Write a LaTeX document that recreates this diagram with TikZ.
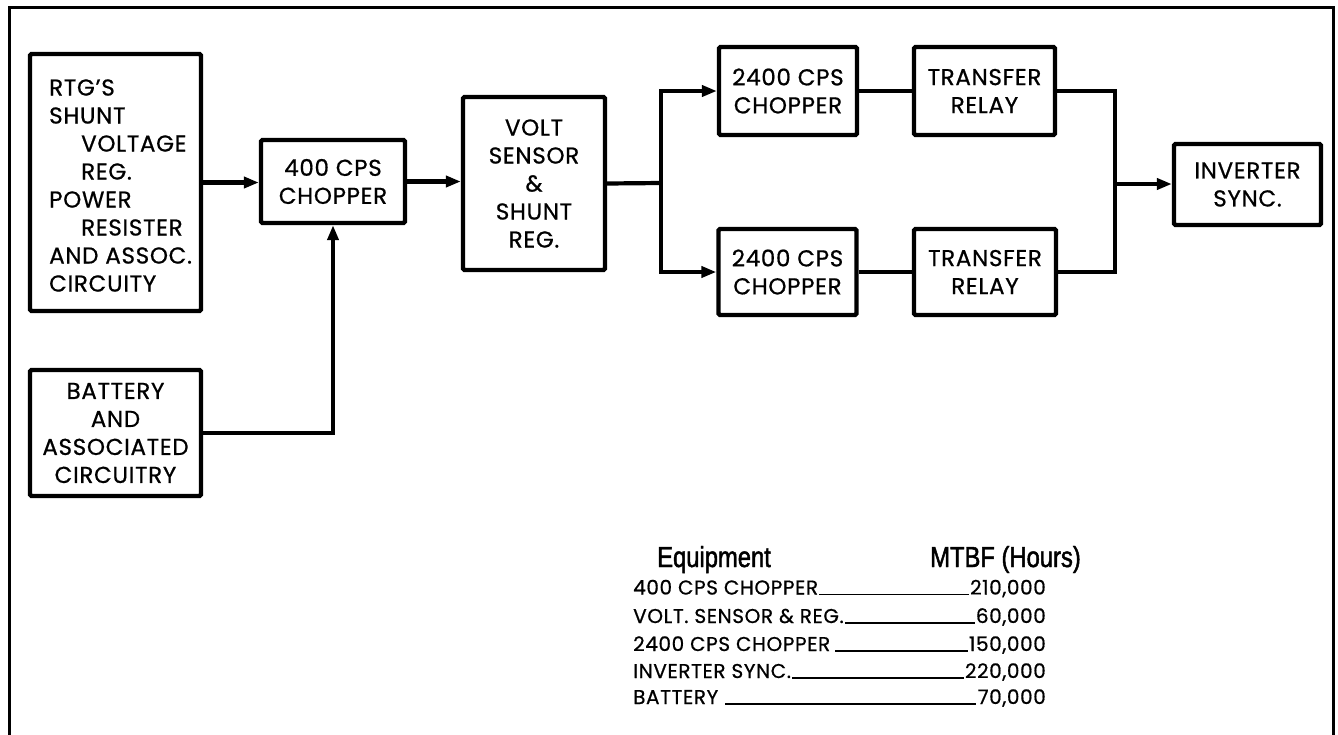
\documentclass[tikz,border=0pt]{standalone}
\usepackage{fontspec}
\setmainfont{Poppins}[FakeBold=0.7, LetterSpace=3]
\newfontfamily\hdrfont{Liberation Sans}[FakeStretch=0.82, FakeBold=1.6]
\usetikzlibrary{arrows.meta}
\tikzset{
  blk/.style={draw, line width=4.3pt, rounded corners=1.5pt, inner sep=0pt,
              font=\fontsize{23}{28}\selectfont, align=center},
  blktxt/.style={inner sep=0pt, font=\fontsize{23}{28}\selectfont, align=left},
  wire/.style={line width=4.2pt},
  arr/.style={wire, -{Triangle[length=15pt,width=11pt]}},
  row/.style={inner sep=1pt, font=\fontsize{20}{22}\selectfont},
  hdr/.style={inner sep=0pt, font=\hdrfont\fontsize{29}{30}\selectfont},
  lead/.style={line width=1.2pt}
}
\begin{document}
\begin{tikzpicture}[x=1pt,y=-1pt]
\useasboundingbox (0,0) rectangle (1338,734);
% frame (open at bottom)
\draw[line width=3pt] (9,740) -- (9,7) -- (1333,7) -- (1333,740);

% blocks
\node[blk, minimum width=171pt, minimum height=257pt] (rtg) at (115.5,182.5) {};
\node[blktxt, anchor=west] (rtgtxt) at (49,185.5)
  {RTG'S\\SHUNT\\\hspace*{32pt}VOLTAGE\\\hspace*{32pt}REG.\\POWER\\\hspace*{32pt}RESISTER\\AND ASSOC.\\CIRCUITY};
\node[blk, minimum width=171pt, minimum height=126pt] (bat) at (115.5,433)
  {BATTERY\\AND\\ASSOCIATED\\CIRCUITRY};
\node[blk, minimum width=144pt, minimum height=83pt] (c400) at (333,181.5)
  {400 CPS\\CHOPPER};
\node[blk, minimum width=142pt, minimum height=173pt] (volt) at (534,183.5)
  {VOLT\\SENSOR\\\&\\SHUNT\\REG.};
\node[blk, minimum width=138pt, minimum height=88pt] (ch1) at (788,91)
  {2400 CPS\\CHOPPER};
\node[blk, minimum width=138pt, minimum height=86pt] (ch2) at (787.5,272)
  {2400 CPS\\CHOPPER};
\node[blk, minimum width=141pt, minimum height=88pt] (rel1) at (984.5,91)
  {TRANSFER\\RELAY};
\node[blk, minimum width=142pt, minimum height=86pt] (rel2) at (985,272)
  {TRANSFER\\RELAY};
\node[blk, minimum width=147pt, minimum height=81pt] (inv) at (1247.5,184.5)
  {INVERTER\\SYNC.};

% connectors
\coordinate (sp) at (661,183);
\coordinate (jn) at (1115,184);
\draw[arr] (rtg.east) -- (rtg.east -| c400.west);
\draw[arr] (bat.east) -| (c400.south);
\draw[arr] (c400.east) -- (c400.east -| volt.west);
\draw[wire] (volt.east) -- (sp);
\draw[arr] (sp) |- (ch1.west);
\draw[arr] (sp) |- (ch2.west);
\draw[wire] (ch1.east) -- (rel1.west);
\draw[wire] (ch2.east) -- (rel2.west);
\draw[wire] (rel1.east) -| (jn);
\draw[wire] (rel2.east) -| (jn);
\draw[arr] (jn) -- (jn -| inv.west);

% table
\node[hdr, anchor=base west] (hEq) at (657,567) {Equipment};
\node[hdr, anchor=base west] (hMt) at (930,567) {MTBF (Hours)};

\node[row, anchor=base west] (l1) at (632,594.5) {400 CPS CHOPPER};
\node[row, anchor=base east] (n1) at (1047,594.5) {210,000};
\node[row, anchor=base west] (l2) at (632,623) {VOLT. SENSOR \& REG.};
\node[row, anchor=base east] (n2) at (1047,623) {60,000};
\node[row, anchor=base west] (l3) at (632,651) {2400 CPS CHOPPER};
\node[row, anchor=base east] (n3) at (1047,651) {150,000};
\node[row, anchor=base west] (l4) at (632,678) {INVERTER SYNC.};
\node[row, anchor=base east] (n4) at (1047,678) {220,000};
\node[row, anchor=base west] (l5) at (632,704) {BATTERY};
\node[row, anchor=base east] (n5) at (1047,704) {70,000};

\draw[lead] (l1.base east) -- (n1.base west);
\draw[lead] (l2.base east) -- (n2.base west);
\draw[lead] ([xshift=4pt]l3.base east) -- (n3.base west);
\draw[lead] (l4.base east) -- (n4.base west);
\draw[lead] ([xshift=6pt]l5.base east) -- (n5.base west);
\end{tikzpicture}
\end{document}
